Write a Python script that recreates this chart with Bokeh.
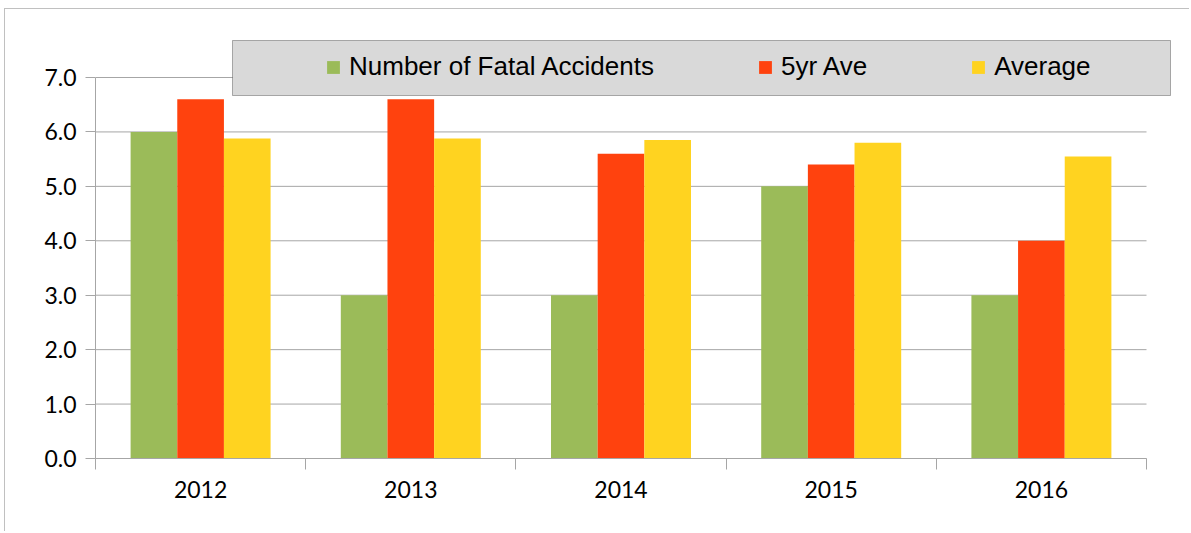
from bokeh.plotting import figure
from bokeh.models import (ColumnDataSource, FixedTicker, Legend, LegendItem,
                          BoxAnnotation, Range1d)
from bokeh.transform import dodge
from bokeh.embed import file_html
from bokeh.resources import INLINE

years = ["2012", "2013", "2014", "2015", "2016"]
fatal = [6.0, 3.0, 3.0, 5.0, 3.0]
five_yr = [6.6, 6.6, 5.6, 5.4, 4.0]
average = [5.88, 5.88, 5.85, 5.8, 5.55]
series_names = ["Number of Fatal Accidents", "5yr Ave", "Average"]
colors = ["#9bbb59", "#ff420e", "#ffd320"]
y_ticks = [0, 1, 2, 3, 4, 5, 6, 7]

n = len(years)
centers = [i + 0.5 for i in range(n)]
src = ColumnDataSource(dict(x=centers, fatal=fatal, five=five_yr, avg=average))

W, H = 1185, 523
FL, FB = 90, 74          # frame left / bottom border in canvas px
plot_px_x = 1051         # pixel width of the category area
plot_px_y = 381          # pixel height of 0..7
frame_w = W - FL
frame_h = H - FB
x_end = n * frame_w / plot_px_x
y_end = 7 * frame_h / plot_px_y

p = figure(width=W, height=H, output_backend="svg", toolbar_location=None,
           x_range=Range1d(0, x_end), y_range=Range1d(0, y_end),
           min_border_left=FL, min_border_right=0, min_border_top=0,
           min_border_bottom=FB)
p.outline_line_color = None
p.background_fill_color = "white"
p.border_fill_color = "white"
p.styles = {"margin-left": "4px", "margin-top": "8px",
            "border-top": "1px solid #c0c0c0", "border-left": "1px solid #c0c0c0"}

grid_col = "#a6a6a6"
# horizontal gridlines limited to the category area
p.segment(x0=[0] * len(y_ticks), x1=[n] * len(y_ticks), y0=y_ticks, y1=y_ticks,
          line_color=grid_col, line_width=1)

bw = 0.222
r1 = p.vbar(x=dodge("x", -bw, range=p.x_range), top="fatal", width=bw, source=src,
            fill_color=colors[0], line_color=None)
r2 = p.vbar(x=dodge("x", 0, range=p.x_range), top="five", width=bw, source=src,
            fill_color=colors[1], line_color=None)
r3 = p.vbar(x=dodge("x", bw, range=p.x_range), top="avg", width=bw, source=src,
            fill_color=colors[2], line_color=None)

# y axis
p.yaxis.bounds = (0, 7)
p.yaxis.ticker = FixedTicker(ticks=y_ticks)
p.yaxis.major_label_overrides = {t: f"{t:.1f}" for t in y_ticks}
p.yaxis.axis_line_color = grid_col
p.yaxis.major_tick_line_color = grid_col
p.yaxis.major_tick_out = 10
p.yaxis.major_tick_in = 0
p.yaxis.minor_tick_line_color = None
p.yaxis.major_label_standoff = 9
p.yaxis.major_label_text_font = "Lato"
p.yaxis.major_label_text_font_size = "23px"
p.yaxis.major_label_text_color = "#000000"

# x axis
p.xaxis.bounds = (0, n)
p.xaxis.ticker = FixedTicker(ticks=centers, minor_ticks=list(range(n + 1)))
p.xaxis.major_label_overrides = {c: y for c, y in zip(centers, years)}
p.xaxis.axis_line_color = grid_col
p.xaxis.major_tick_line_color = None
p.xaxis.major_tick_out = 0
p.xaxis.major_tick_in = 0
p.xaxis.minor_tick_line_color = grid_col
p.xaxis.minor_tick_out = 11
p.xaxis.minor_tick_in = 0
p.xaxis.major_label_standoff = 11
p.xaxis.major_label_text_font = "Lato"
p.xaxis.major_label_text_font_size = "23px"
p.xaxis.major_label_text_color = "#000000"

p.xgrid.grid_line_color = None
p.ygrid.grid_line_color = None

# legend box
p.add_layout(BoxAnnotation(left=226, right=1164, top=30, bottom=85,
                           left_units="canvas", right_units="canvas",
                           top_units="canvas", bottom_units="canvas",
                           fill_color="#d9d9d9", fill_alpha=1,
                           line_color="#000000", line_width=1, level="overlay"))

legend = Legend(items=[LegendItem(label=s, renderers=[r]) for s, r in
                       zip(series_names, [r1, r2, r3])],
                orientation="horizontal", location=(230, 376),
                glyph_width=16, glyph_height=16, label_standoff=8, spacing=103,
                padding=0, margin=0, background_fill_alpha=0,
                border_line_color=None,
                label_text_font="Liberation Sans", label_text_font_size="26px",
                label_text_color="#000000")
p.add_layout(legend, "center")

open("out.html", "w").write(file_html(p, INLINE))
